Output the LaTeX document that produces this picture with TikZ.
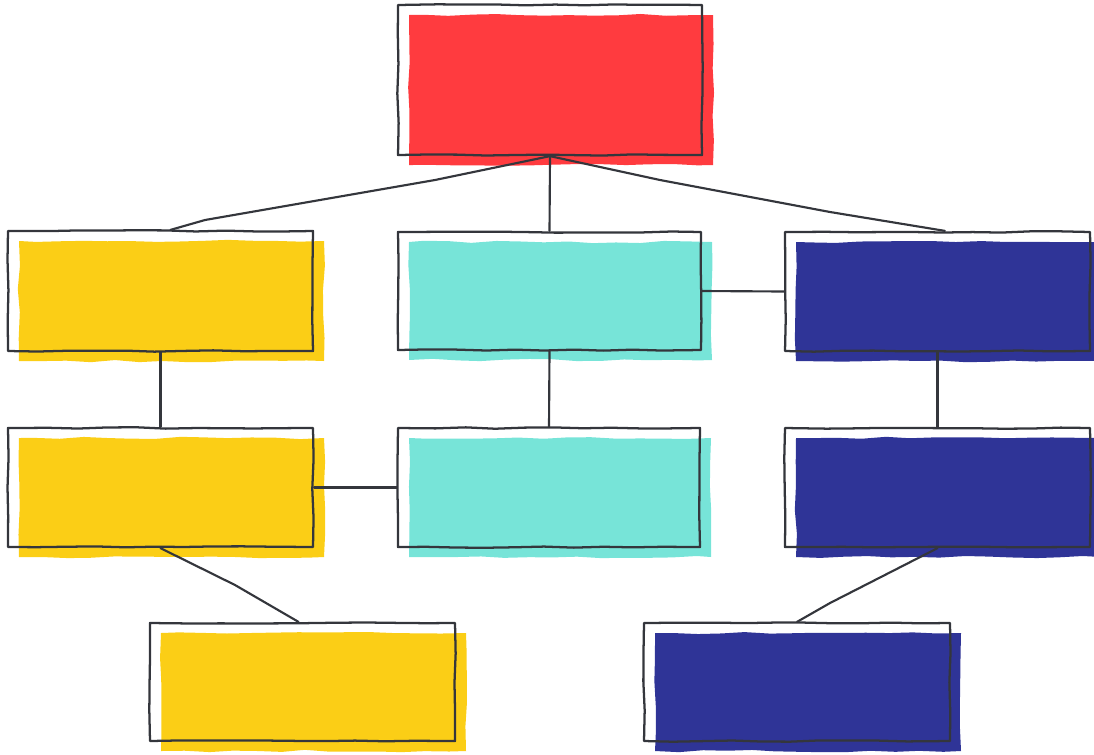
\documentclass[tikz,border=0pt]{standalone}
\usetikzlibrary{decorations.pathmorphing}
\definecolor{cred}{RGB}{255,59,63}
\definecolor{cyel}{RGB}{251,206,22}
\definecolor{cteal}{RGB}{119,228,216}
\definecolor{cnavy}{RGB}{47,52,151}
\definecolor{linec}{RGB}{52,54,60}
\newcommand\skbox[6]{%
  \node[fillbox, fill=#6, minimum width=#4*0.75pt, minimum height=#5*0.75pt] (#1f) at (#2+11,#3+10) {};
  \node[outbox, minimum width=#4*0.75pt, minimum height=#5*0.75pt] (#1) at (#2,#3) {};
}
\begin{document}
\begin{tikzpicture}[x=0.75pt,y=-0.75pt,
  fillbox/.style={draw=none, inner sep=0pt, decorate,
    decoration={random steps, segment length=18pt, amplitude=0.9pt}},
  outbox/.style={draw=linec, line width=1.7pt, inner sep=0pt, line join=round, decorate,
    decoration={random steps, segment length=22pt, amplitude=0.55pt}},
  conn/.style={draw=linec, line width=1.6pt, line cap=round, line join=round}]
\pgfmathsetseed{11}
\useasboundingbox (0,0) rectangle (1094,754);
\skbox{top}{550}{80}{304}{150}{cred}
\skbox{la}{160.5}{291}{305}{120}{cyel}
\skbox{ma}{549.5}{291}{303}{118}{cteal}
\skbox{ra}{937.5}{291.5}{305}{119}{cnavy}
\skbox{lb}{160.5}{487.5}{305}{119}{cyel}
\skbox{mb}{549}{487.5}{302}{119}{cteal}
\skbox{rb}{937.5}{487.5}{305}{119}{cnavy}
\skbox{lc}{302.5}{682}{305}{118}{cyel}
\skbox{rc}{797}{682}{306}{118}{cnavy}
% connectors
\draw[conn] (top.south) -- (435,180) -- (205,220) -- ([xshift=7.5pt]la.north);
\draw[conn] (top.south) -- (ma.north);
\draw[conn] (top.south) -- (660,180) -- (830,212) -- ([xshift=5.5pt]ra.north);
\draw[conn] (ma.east) -- (ra.west);
\draw[conn] (la.south) -- (lb.north);
\draw[conn] (ma.south) -- (mb.north);
\draw[conn] (ra.south) -- (rb.north);
\draw[conn] (lb.east) -- (mb.west);
\draw[conn] (lb.south) -- (235,585) -- ([xshift=-3pt]lc.north);
\draw[conn] (rb.south) -- (830,603) -- (rc.north);
\end{tikzpicture}
\end{document}
